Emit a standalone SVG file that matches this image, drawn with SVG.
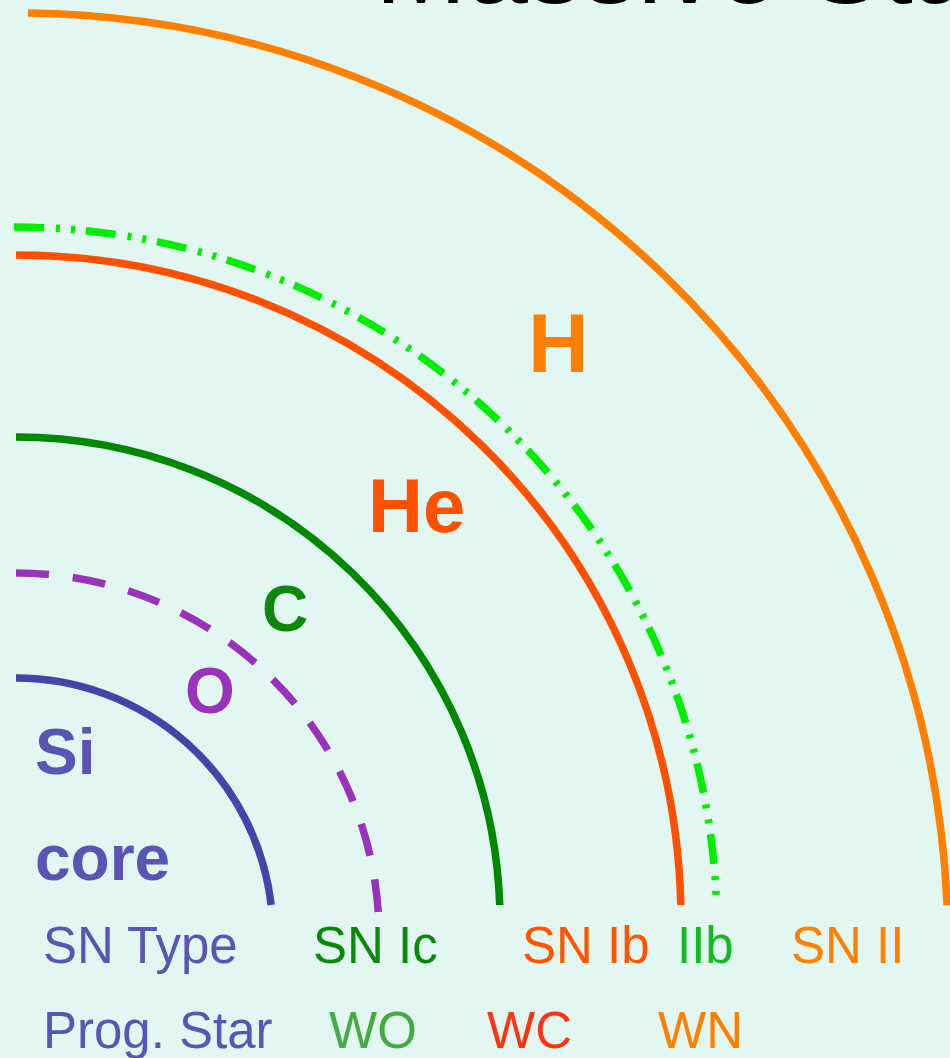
<svg xmlns="http://www.w3.org/2000/svg" width="950" height="1058" viewBox="0 0 950 1058">
<style>
.arc{fill:none;stroke-width:7.5;stroke-linecap:butt}
.lbl{font-family:"Liberation Sans",Arial,sans-serif;font-weight:bold}
.row{font-family:"Liberation Sans",Arial,sans-serif;font-size:51px}
</style>
<rect x="0" y="0" width="950" height="1058" fill="#e2f7f1"/>
<text x="375" y="3" font-family="Liberation Sans,Arial,sans-serif" font-size="110" fill="#000">Massive Stars</text>
<g id="si">
<path class="arc" stroke="#4444aa" d="M16,678 A257,257 0 0 1 271.2,905"/>
<text class="lbl" x="35" y="774" font-size="64" fill="#5a55b5">Si</text>
<text class="lbl" x="35" y="880" font-size="64" fill="#5a55b5">core</text>
</g>
<g id="o">
<path class="arc" stroke="#9933bb" stroke-dasharray="33 24" d="M16,573 A363,363 0 0 1 378.6,918"/>
<text class="lbl" x="185" y="713" font-size="64" fill="#9933bb">O</text>
</g>
<g id="c">
<path class="arc" stroke="#008800" d="M16,437 A484,484 0 0 1 499.7,905"/>
<text class="lbl" x="262" y="631" font-size="64" fill="#0a880a">C</text>
</g>
<g id="he">
<path class="arc" stroke="#ff5000" d="M16,255 A665,665 0 0 1 680.8,905"/>
<text class="lbl" x="368" y="532" font-size="76" fill="#ff5000">He</text>
</g>
<g id="iib">
<path class="arc" stroke="#00ee00" stroke-width="3" stroke-dasharray="30 12 4 11 4 11" d="M14,227 A703,703 0 0 1 716.3,898"/>
</g>
<g id="h">
<path class="arc" stroke="#ff8000" d="M28,13.08 A932,932 0 0 1 947.1,905"/>
<text class="lbl" x="528" y="372" font-size="84" fill="#ff7f00">H</text>
</g>
<g id="legend">
<text class="row" x="43" y="963" fill="#5a55b5">SN Type</text>
<text class="row" x="313" y="963" fill="#0a880a">SN Ic</text>
<text class="row" x="522" y="963" fill="#ff5500">SN Ib</text>
<text class="row" x="677" y="963" fill="#11bb22">IIb</text>
<text class="row" x="791" y="963" fill="#ff8000">SN II</text>
<text class="row" x="43" y="1048" fill="#5a55b5">Prog. Star</text>
<text class="row" x="329" y="1048" fill="#44aa44">WO</text>
<text class="row" x="487" y="1048" fill="#ff3311">WC</text>
<text class="row" x="658" y="1048" fill="#ff8000">WN</text>
</g>
</svg>
